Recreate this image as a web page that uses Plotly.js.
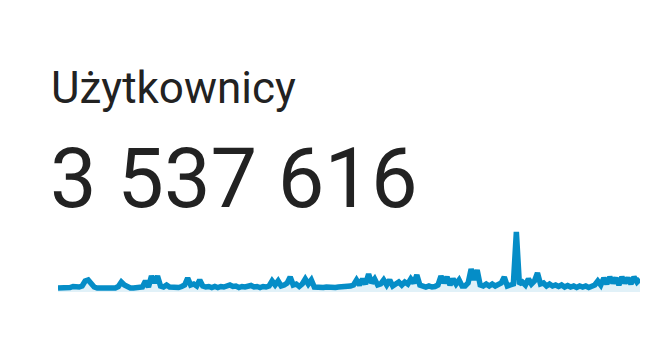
<!DOCTYPE html>
<html>
<head>
<meta charset="utf-8">
<script src="https://cdn.plot.ly/plotly-3.0.1.min.js"></script>
<style>
html,body{margin:0;padding:0;background:#fff;}
#chart{width:670px;height:354px;}
</style>
</head>
<body>
<div id="chart"></div>
<script>
// Sparkline values (relative daily users)
const dailyUsers = [
  4,4,4,4,4.5,5.5,5,5,6,11,12,8,5,4,4,4,4,4,4,4,5.5,10,7,5,4,4,4,4,5,11,5,16,9,16,6,5,7,5,
  4.5,5,4.5,5.5,7,14,7,8,6,12,6,5,5.5,4.5,5.5,4.5,5.5,5,6,7,5.5,6,4.5,5.5,5,6,6.5,5,5.5,4.5,5.5,5,6,
  11,7,11,6,7,9,15,7,8,5.5,8,13,8,12,5,4.5,5,4.5,5,4.5,5,4.5,5,5,5.5,5,6,7,
  12,7,13,8,18,9,13,7,8,12,7,12,6,8,10,7,10,8,13,9,17,7,6,5,6,5,5.5,7,16,9,15,7,13,8,12,
  6,6,9,23,12,22,7,6,8,6,8,6,8,9,15,6,7,8,60,8,10,7,13,8,11,19,8,9,6,8,6,7,5.5,7,5,6.5,5,6,
  4.5,6,5,6,4.5,6,7,11,7,14,8,15,9,14,7,15,9,14,8,15,10,13
];
const metricLabel = "Użytkownicy";
const metricTotal = "3 537 616";

const days = dailyUsers.map((_, i) => i);

const trace = {
  x: days,
  y: dailyUsers,
  type: 'scatter',
  mode: 'lines',
  line: {color: '#058dc7', width: 5.5, shape: 'linear'},
  fill: 'tozeroy',
  fillcolor: 'rgba(5,141,199,0.12)',
  cliponaxis: false,
  hoverinfo: 'skip'
};

const layout = {
  width: 670, height: 354,
  margin: {l: 58, r: 30, t: 228, b: 62},
  paper_bgcolor: '#ffffff',
  plot_bgcolor: '#ffffff',
  showlegend: false,
  xaxis: {visible: false, range: [0, days.length - 1], fixedrange: true},
  yaxis: {visible: false, range: [0, 64], fixedrange: true},
  annotations: [
    {
      text: metricLabel, xref: 'paper', yref: 'paper',
      x: -0.0155, y: 3.19, xanchor: 'left', yanchor: 'middle',
      showarrow: false, font: {family: 'Roboto', size: 44, color: '#222222'}
    },
    {
      text: metricTotal, xref: 'paper', yref: 'paper',
      x: -0.018, y: 1.78, xanchor: 'left', yanchor: 'middle',
      showarrow: false, font: {family: 'Roboto', size: 83, color: '#222222'}
    }
  ]
};

Plotly.newPlot('chart', [trace], layout, {displayModeBar: false, staticPlot: true});
</script>
</body>
</html>
